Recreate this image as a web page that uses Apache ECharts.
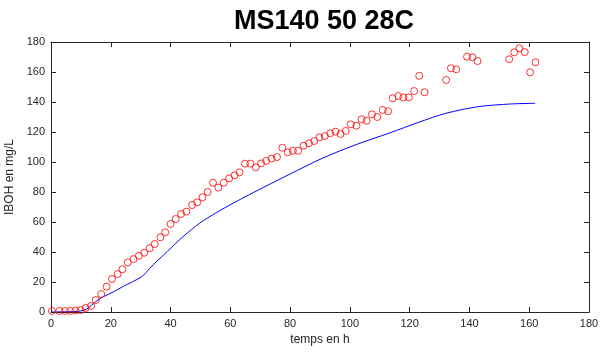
<!DOCTYPE html>
<html>
<head>
<meta charset="utf-8">
<script src="https://cdn.jsdelivr.net/npm/echarts@6/dist/echarts.min.js"></script>
<style>
  html, body { margin: 0; padding: 0; background: #fff; }
  #chart { width: 613px; height: 354px; }
</style>
</head>
<body>
<div id="chart"></div>
<script>
// measured points (red circles)
const measTime = [0.3, 2.8, 4.7, 6.4, 8.2, 9.9, 11.6, 13.4, 15.0, 16.8, 18.6, 20.4, 22.3, 23.9, 25.7, 27.6, 29.4, 31.2, 33.0, 34.7,
  36.6, 38.2, 40.0, 41.7, 43.5, 45.3, 47.2, 48.9, 50.7, 52.4, 54.2, 56.0, 57.8, 59.6, 61.4, 63.1, 64.9, 66.7, 68.5, 70.3,
  72.0, 73.8, 75.6, 77.4, 79.2, 80.9, 82.7, 84.5, 86.3, 88.1, 89.8, 91.6, 93.4, 95.2, 96.9, 98.6, 100.3, 102.2, 103.9, 105.6,
  107.4, 109.2, 111.0, 112.8, 114.3, 116.2, 117.9, 119.7, 121.5, 123.2, 125.0, 132.2, 133.8, 135.6, 139.2, 141.0, 142.7,
  153.3, 155.0, 156.7, 158.5, 160.3, 162.1];
const measIBOH = [0.7, 0.7, 0.7, 0.7, 1.0, 1.3, 2.7, 4.0, 8.0, 12.0, 16.9, 22.0, 25.3, 28.5, 33.1, 35.3, 37.5, 39.5, 42.5, 45.3,
  49.8, 53.1, 58.7, 62.0, 65.3, 66.9, 71.3, 73.1, 76.5, 80.0, 86.2, 82.9, 86.2, 89.1, 91.1, 93.1, 98.9, 98.9, 96.5, 99.1,
  100.7, 102.3, 103.3, 109.5, 106.5, 107.5, 107.5, 110.9, 112.5, 114.0, 116.5, 117.3, 119.1, 120.2, 118.7, 120.7, 125.1, 124.2, 128.5, 127.5,
  131.8, 130.0, 134.7, 133.8, 142.5, 144.0, 143.1, 143.1, 147.3, 157.5, 146.5, 154.7, 162.5, 161.8, 170.2, 169.8, 167.3,
  168.5, 173.1, 175.8, 173.3, 159.8, 166.5];

// model curve (blue line)
const modelTime = [0, 8, 10, 12, 15, 17.5, 21, 24, 30.3, 33, 35.5, 39, 44.2, 49.8, 55.3, 61, 66.5, 72, 79.8, 90.9,
  102.1, 113.2, 123.2, 132, 143, 154, 162];
const modelIBOH = [0, 0.3, 0.8, 2, 7, 10.2, 13.5, 16.9, 23.5, 29, 34, 40.5, 50.3, 59.3, 66.2, 72.6, 78.4, 84, 91.8, 102.6,
  111.6, 119.3, 126.6, 132.4, 136.9, 138.7, 139.1];

const xTicks = { min: 0, max: 180, interval: 20 };
const yTicks = { min: 0, max: 180, interval: 20 };

const chart = echarts.init(document.getElementById('chart'));
const axisCol = '#262626';
const fontFam = '"Liberation Sans", Arial, sans-serif';

const tickIn = { show: true, inside: true, length: 5, lineStyle: { color: axisCol, width: 1 } };
const baseX = {
  type: 'value', min: xTicks.min, max: xTicks.max, interval: xTicks.interval,
  axisLine: { show: true, onZero: false, lineStyle: { color: axisCol, width: 1 } },
  axisTick: tickIn, splitLine: { show: false }
};
const baseY = {
  type: 'value', min: yTicks.min, max: yTicks.max, interval: yTicks.interval,
  axisLine: { show: true, onZero: false, lineStyle: { color: axisCol, width: 1 } },
  axisTick: tickIn, splitLine: { show: false }
};

chart.setOption({
  animation: false,
  title: {
    text: 'MS140 50 28C',
    left: 319, top: 3, textAlign: 'center',
    textStyle: { fontFamily: fontFam, fontSize: 27, fontWeight: 'bold', color: '#000' }
  },
  grid: { left: 51, right: 24, top: 42, bottom: 42, outerBoundsMode: 'none', containLabel: false },
  xAxis: [
    Object.assign({}, baseX, {
      position: 'bottom',
      name: 'temps en h', nameLocation: 'middle', nameGap: 22,
      nameTextStyle: { fontFamily: fontFam, fontSize: 12, color: axisCol },
      axisLabel: { fontFamily: fontFam, fontSize: 11, color: axisCol, margin: 6 }
    }),
    Object.assign({}, baseX, { position: 'top', axisLabel: { show: false } })
  ],
  yAxis: [
    Object.assign({}, baseY, {
      position: 'left',
      name: 'IBOH en mg/L', nameLocation: 'middle', nameGap: 31,
      nameTextStyle: { fontFamily: fontFam, fontSize: 12, color: axisCol },
      axisLabel: { fontFamily: fontFam, fontSize: 11, color: axisCol, margin: 6 }
    }),
    Object.assign({}, baseY, { position: 'right', axisLabel: { show: false } })
  ],
  series: [
    {
      type: 'line',
      data: modelTime.map((t, i) => [t, modelIBOH[i]]),
      showSymbol: false,
      smooth: 0.3,
      lineStyle: { color: '#0000ff', width: 1 },
      z: 3
    },
    {
      type: 'scatter',
      data: measTime.map((t, i) => [t, measIBOH[i]]),
      symbol: 'circle',
      symbolSize: 7,
      itemStyle: { color: 'rgba(0,0,0,0)', borderColor: '#ff0000', borderWidth: 1 },
      z: 4
    }
  ]
});
</script>
</body>
</html>
